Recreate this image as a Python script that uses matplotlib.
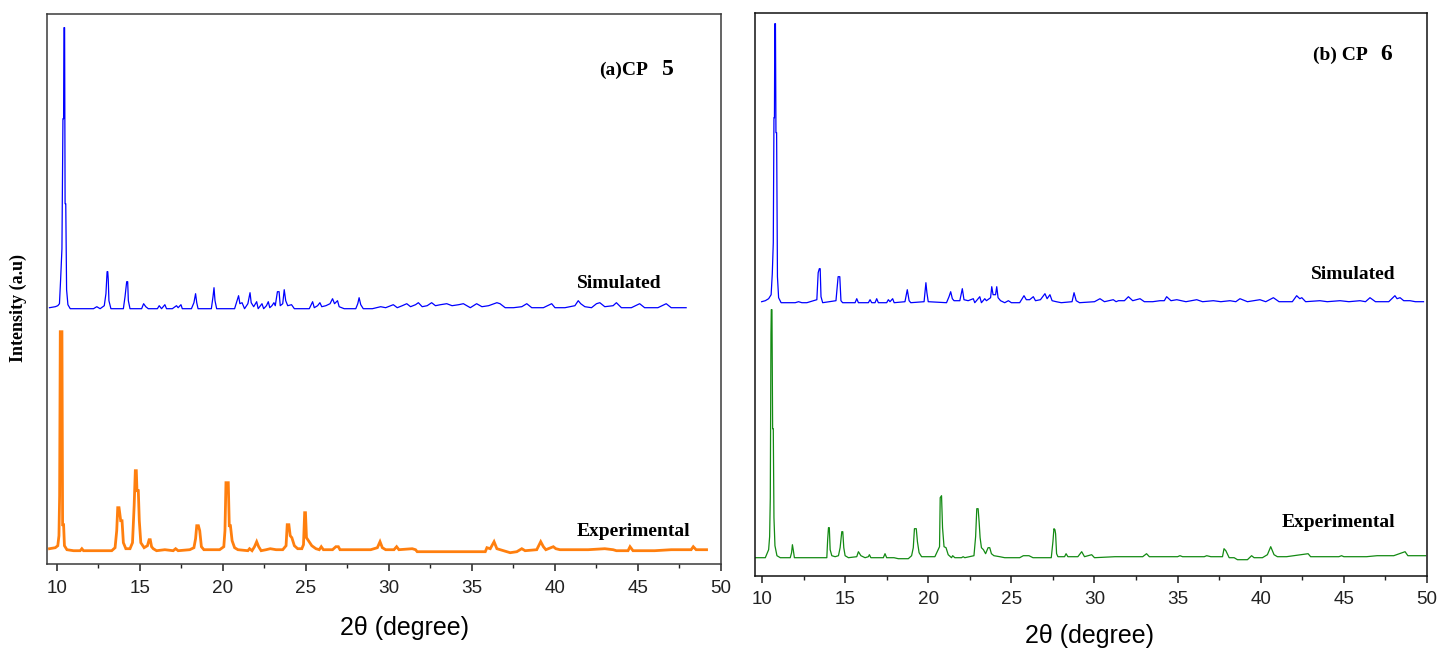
import matplotlib
matplotlib.use("Agg")
import matplotlib.pyplot as plt
from matplotlib.ticker import MultipleLocator
import numpy as np

# ── data: (2theta, intensity above baseline) ────────────────────────────────
sim5 = [(9.55, 1), (9.9, 2), (10.05, 3), (10.15, 5), (10.22, 29), (10.30, 60),
        (10.36, 190), (10.40, 190), (10.42, 281), (10.46, 281), (10.49, 105),
        (10.53, 105), (10.58, 19), (10.66, 4), (10.8, 0), (11.5, 0), (12.2, 0),
        (12.4, 2), (12.6, 0), (12.85, 3), (12.95, 15), (13.02, 37), (13.06, 37),
        (13.09, 29), (13.13, 8), (13.25, 0), (14.0, 0), (14.1, 12), (14.2, 27),
        (14.26, 27), (14.3, 8), (14.4, 0), (15.1, 0), (15.22, 5), (15.35, 2),
        (15.5, 0), (16.05, 0), (16.16, 3), (16.3, 0), (16.5, 4), (16.6, 0),
        (16.95, 0), (17.2, 3), (17.3, 1), (17.47, 4), (17.55, 0), (18.1, 0),
        (18.25, 6), (18.35, 15), (18.42, 6), (18.5, 0), (19.3, 0), (19.4, 12),
        (19.46, 21), (19.52, 8), (19.62, 0), (20.7, 0), (20.85, 8), (20.94, 13),
        (21.02, 5), (21.15, 6), (21.3, 0), (21.5, 5), (21.63, 16), (21.7, 6),
        (21.85, 2), (22.03, 7), (22.12, 0), (22.35, 5), (22.45, 0), (22.62, 3),
        (22.73, 7), (22.82, 1), (22.95, 3), (23.07, 6), (23.15, 3), (23.28, 17),
        (23.38, 17), (23.45, 3), (23.6, 5), (23.69, 19), (23.78, 8), (23.9, 3),
        (24.13, 4), (24.3, 0), (25.2, 0), (25.4, 7), (25.5, 1), (25.7, 3),
        (25.84, 6), (25.95, 2), (26.2, 3), (26.45, 5), (26.6, 10), (26.72, 5),
        (26.9, 8), (27.0, 2), (27.3, 0), (28.0, 0), (28.12, 5), (28.2, 11),
        (28.3, 4), (28.45, 0), (29.0, 0), (29.5, 2), (29.8, 1), (30.26, 4),
        (30.5, 1), (30.8, 3), (31.07, 5), (31.3, 2), (31.6, 4), (31.77, 6),
        (32.0, 2), (32.3, 3), (32.57, 6), (32.8, 3), (33.1, 4), (33.48, 5),
        (33.8, 3), (34.2, 4), (34.48, 5), (34.9, 1), (35.28, 5), (35.6, 2),
        (36.0, 3), (36.5, 6), (36.69, 5), (37.0, 1), (37.5, 1), (38.0, 2),
        (38.3, 5), (38.6, 1), (39.3, 1), (39.8, 5), (40.0, 1), (40.6, 1),
        (41.2, 3), (41.4, 8), (41.55, 5), (41.8, 2), (42.2, 1), (42.5, 5),
        (42.7, 6), (43.0, 2), (43.5, 3), (43.7, 6), (44.0, 1), (44.6, 1),
        (45.1, 5), (45.4, 1), (46.2, 1), (46.7, 5), (47.0, 1), (47.5, 1),
        (47.9, 1)]

exp5 = [(9.55, 2), (9.9, 3), (10.05, 5), (10.12, 15), (10.16, 55), (10.2, 219),
        (10.3, 219), (10.34, 26), (10.4, 26), (10.45, 5), (10.6, 1), (11.0, 0),
        (11.4, 0), (11.5, 2), (11.6, 0), (13.3, 0), (13.5, 3), (13.6, 20),
        (13.66, 43), (13.74, 43), (13.84, 30), (13.92, 30), (14.0, 8), (14.15, 2),
        (14.4, 2), (14.55, 8), (14.65, 45), (14.72, 80), (14.78, 80), (14.82, 60),
        (14.9, 60), (14.96, 30), (15.05, 8), (15.25, 3), (15.45, 5), (15.55, 11),
        (15.62, 11), (15.7, 4), (15.8, 2), (16.0, 0), (16.5, 1), (17.0, 0),
        (17.15, 2), (17.3, 0), (18.0, 1), (18.25, 3), (18.35, 12), (18.42, 25),
        (18.52, 25), (18.6, 20), (18.7, 4), (18.85, 1), (19.8, 1), (20.05, 4),
        (20.12, 20), (20.18, 68), (20.32, 68), (20.38, 25), (20.45, 25),
        (20.55, 10), (20.7, 3), (20.9, 1), (21.5, 0), (21.6, 2), (21.75, 0),
        (21.9, 4), (22.03, 9), (22.15, 4), (22.3, 0), (22.6, 1), (22.85, 2),
        (23.2, 1), (23.6, 1), (23.8, 5), (23.87, 26), (23.97, 26), (24.05, 15),
        (24.15, 13), (24.3, 5), (24.5, 2), (24.75, 2), (24.85, 6), (24.92, 38),
        (24.97, 38), (25.03, 13), (25.15, 10), (25.35, 5), (25.6, 2), (25.8, 1),
        (25.92, 4), (26.05, 1), (26.6, 1), (26.8, 4), (26.95, 4), (27.05, 1),
        (27.45, 1), (28.0, 1), (28.9, 1), (29.3, 3), (29.46, 9), (29.6, 3),
        (29.8, 1), (30.3, 1), (30.46, 4), (30.6, 1), (31.4, 2), (31.6, 1),
        (31.7, -1), (35.8, -1), (35.9, 3), (36.1, 2), (36.33, 9), (36.5, 2),
        (36.7, 1), (37.3, -2), (37.7, -1), (38.0, 2), (38.2, 0), (38.9, 1),
        (39.14, 9), (39.3, 4), (39.45, 1), (39.9, 4), (40.05, 2), (40.3, 1),
        (42.0, 1), (43.0, 2), (43.5, 1), (43.7, 0), (44.4, 0), (44.52, 4),
        (44.7, 0), (46.0, 0), (47.0, 1), (48.2, 1), (48.33, 4), (48.5, 1),
        (49.13, 1)]

sim6 = [(9.98, 1), (10.2, 2), (10.4, 4), (10.55, 8), (10.62, 29), (10.68, 60),
        (10.72, 185), (10.75, 185), (10.77, 279), (10.81, 279), (10.84, 170),
        (10.88, 170), (10.93, 26), (11.0, 5), (11.15, 0), (12.0, 0), (12.2, 1),
        (12.4, 0), (12.7, 0), (12.9, 1), (13.3, 3), (13.38, 30), (13.45, 34),
        (13.5, 34), (13.55, 6), (13.65, 0), (14.45, 2), (14.58, 26), (14.68, 26),
        (14.75, 2), (14.85, 0), (15.6, 0), (15.7, 4), (15.8, 0), (16.4, 0),
        (16.5, 3), (16.6, 0), (16.8, 0), (16.9, 4), (17.0, 0), (17.5, 0),
        (17.6, 3), (17.7, 1), (17.86, 4), (17.95, 0), (18.6, 1), (18.74, 13),
        (18.85, 2), (18.95, 0), (19.75, 1), (19.86, 20), (19.92, 10), (20.0, 1),
        (21.1, 0), (21.25, 6), (21.35, 11), (21.45, 4), (21.55, 2), (21.9, 2),
        (22.05, 14), (22.15, 3), (22.4, 2), (22.71, 4), (22.8, 0), (23.1, 6),
        (23.2, 0), (23.4, 4), (23.5, 2), (23.75, 5), (23.82, 16), (23.9, 8),
        (24.05, 8), (24.12, 16), (24.2, 5), (24.35, 2), (24.6, 0), (24.82, 2),
        (25.0, 0), (25.5, 0), (25.65, 4), (25.76, 7), (25.9, 3), (26.1, 3),
        (26.32, 6), (26.45, 2), (26.75, 3), (27.02, 9), (27.15, 4), (27.32, 8),
        (27.45, 2), (27.7, 1), (28.0, 0), (28.65, 1), (28.77, 10), (28.9, 2),
        (29.1, 0), (30.0, 1), (30.33, 4), (30.6, 1), (31.13, 3), (31.3, 1),
        (31.44, 2), (31.8, 2), (32.04, 6), (32.3, 2), (32.74, 4), (33.0, 1),
        (33.5, 1), (33.94, 2), (34.2, 2), (34.34, 6), (34.6, 2), (34.95, 3),
        (35.5, 1), (36.15, 3), (36.5, 1), (37.15, 2), (37.6, 1), (38.15, 2),
        (38.5, 1), (38.75, 4), (39.2, 1), (39.95, 3), (40.3, 1), (40.76, 5),
        (41.1, 1), (41.9, 1), (42.16, 7), (42.35, 4), (42.47, 5), (42.7, 1),
        (43.56, 2), (44.0, 1), (44.77, 2), (45.3, 1), (45.97, 2), (46.3, 1),
        (46.57, 5), (46.9, 1), (47.7, 1), (48.07, 7), (48.2, 4), (48.38, 5),
        (48.6, 2), (48.98, 2), (49.3, 1), (49.79, 1)]

exp6 = [(9.6, 0), (10.2, 0), (10.4, 8), (10.46, 21), (10.5, 60), (10.54, 224),
        (10.56, 248), (10.6, 248), (10.64, 129), (10.68, 129), (10.72, 40),
        (10.78, 12), (10.9, 2), (11.1, 0), (11.7, 0), (11.78, 5), (11.83, 13),
        (11.88, 8), (11.95, 0), (13.9, 0), (13.95, 18), (14.0, 30), (14.05, 30),
        (14.1, 8), (14.2, 2), (14.4, 1), (14.6, 2), (14.7, 10), (14.8, 26),
        (14.86, 26), (14.92, 10), (15.0, 2), (15.2, 0), (15.7, 1), (15.8, 6),
        (15.95, 2), (16.2, 0), (16.4, 1), (16.46, 3), (16.55, 0), (17.3, 0),
        (17.4, 4), (17.5, 0), (17.94, 0), (18.2, -1), (18.8, -1), (19.0, 2),
        (19.1, 10), (19.17, 29), (19.28, 29), (19.35, 16), (19.45, 5), (19.6, 1),
        (20.4, 1), (20.6, 8), (20.68, 11), (20.72, 60), (20.8, 62), (20.86, 30),
        (20.95, 11), (21.07, 10), (21.2, 3), (21.4, 0), (21.47, 2), (21.6, 0),
        (22.0, 0), (22.1, 1), (22.2, 0), (22.75, 2), (22.85, 21), (22.92, 49),
        (23.0, 49), (23.06, 36), (23.12, 20), (23.2, 10), (23.32, 8), (23.45, 4),
        (23.6, 10), (23.7, 10), (23.8, 4), (23.95, 2), (24.3, 1), (24.6, 0),
        (25.5, 0), (25.72, 2), (26.06, 2), (26.3, 0), (27.4, 0), (27.5, 16),
        (27.56, 29), (27.62, 28), (27.66, 24), (27.72, 4), (27.8, 1), (28.2, 1),
        (28.29, 4), (28.4, 1), (29.0, 1), (29.23, 6), (29.4, 1), (29.83, 3),
        (30.0, 0), (31.23, 1), (31.83, 1), (32.33, 1), (32.9, 1), (33.13, 4),
        (33.3, 1), (35.0, 1), (35.14, 2), (35.3, 1), (36.6, 1), (36.75, 2),
        (37.0, 1), (37.7, 1), (37.79, 9), (37.9, 7), (38.1, 0), (38.4, 0),
        (38.6, -2), (39.2, -2), (39.45, 2), (39.6, 0), (40.1, 0), (40.4, 3),
        (40.6, 11), (40.8, 3), (41.0, 1), (41.55, 1), (42.85, 4), (43.0, 1),
        (44.7, 1), (44.86, 2), (45.0, 1), (46.36, 1), (47.0, 2), (48.0, 2),
        (48.68, 6), (48.85, 2), (49.92, 2)]

xticks = [10, 15, 20, 25, 30, 35, 40, 45, 50]

SERIF = "Liberation Serif"
SANS = "Liberation Sans"

fig = plt.figure(figsize=(14.4, 6.52), dpi=100)


def setup(ax, xmin, ymax, pad, spine_col):
    ax.set_xlim(xmin, 50)
    ax.set_ylim(0, ymax)
    ax.set_xticks(xticks)
    ax.xaxis.set_minor_locator(MultipleLocator(2.5))
    ax.set_yticks([])
    ax.tick_params(axis="x", which="major", direction="out", length=5,
                   width=1.1, labelsize=13.6, pad=pad, colors="#222222")
    ax.tick_params(axis="x", which="minor", direction="out", length=3.2,
                   width=1.0, colors="#222222")
    for lab in ax.get_xticklabels():
        lab.set_fontfamily(SANS)
    for sp in ax.spines.values():
        sp.set_linewidth(1.1)
        sp.set_color(spine_col)


# ── Panel (a): CP 5 ──────────────────────────────────────────
ax1 = fig.add_axes([47 / 1440, 88 / 652, 674 / 1440, 550 / 652])
setup(ax1, 9.40, 550, 6.5, "#3a3a3a")
x, y = np.array(sim5).T
ax1.plot(x, y + 255.3, color="#0000ff", linewidth=0.9)
x, y = np.array(exp5).T
ax1.plot(x, y + 13.3, color="#ff7f0e", linewidth=2.0, solid_joinstyle="miter")

ax1.set_xlabel("2θ (degree)", fontsize=18, family=SANS, va="center")
ax1.xaxis.set_label_coords(0.531, -0.116)
ax1.set_ylabel("Intensity (a.u)", fontsize=13, family=SERIF,
               fontweight="bold", va="center")
ax1.yaxis.set_label_coords(-0.043, 0.465)

ax1.text(42.65, 489, "(a)CP", fontsize=14, family=SERIF, fontweight="bold")
ax1.text(46.45, 489, "5", fontsize=17, family=SERIF, fontweight="bold")
ax1.text(41.33, 276, "Simulated", fontsize=14, family=SERIF, fontweight="bold")
ax1.text(41.33, 28, "Experimental", fontsize=14, family=SERIF, fontweight="bold")

# ── Panel (b): CP 6 ──────────────────────────────────────────
ax2 = fig.add_axes([755 / 1440, 76 / 652, 672 / 1440, 563 / 652])
setup(ax2, 9.58, 563, 5.5, "#111111")
x, y = np.array(sim6).T
ax2.plot(x, y + 273.3, color="#0000ff", linewidth=0.9)
x, y = np.array(exp6).T
ax2.plot(x, y + 18.3, color="#138a13", linewidth=0.9)

ax2.set_xlabel("2θ (degree)", fontsize=18, family=SANS, va="center")
ax2.xaxis.set_label_coords(0.4985, -0.1066)

ax2.text(43.14, 516, "(b) CP", fontsize=14, family=SERIF, fontweight="bold")
ax2.text(47.17, 516, "6", fontsize=17, family=SERIF, fontweight="bold")
ax2.text(43.02, 297, "Simulated", fontsize=14, family=SERIF, fontweight="bold")
ax2.text(41.28, 49, "Experimental", fontsize=14, family=SERIF, fontweight="bold")

fig.savefig("out.png", dpi=100)
